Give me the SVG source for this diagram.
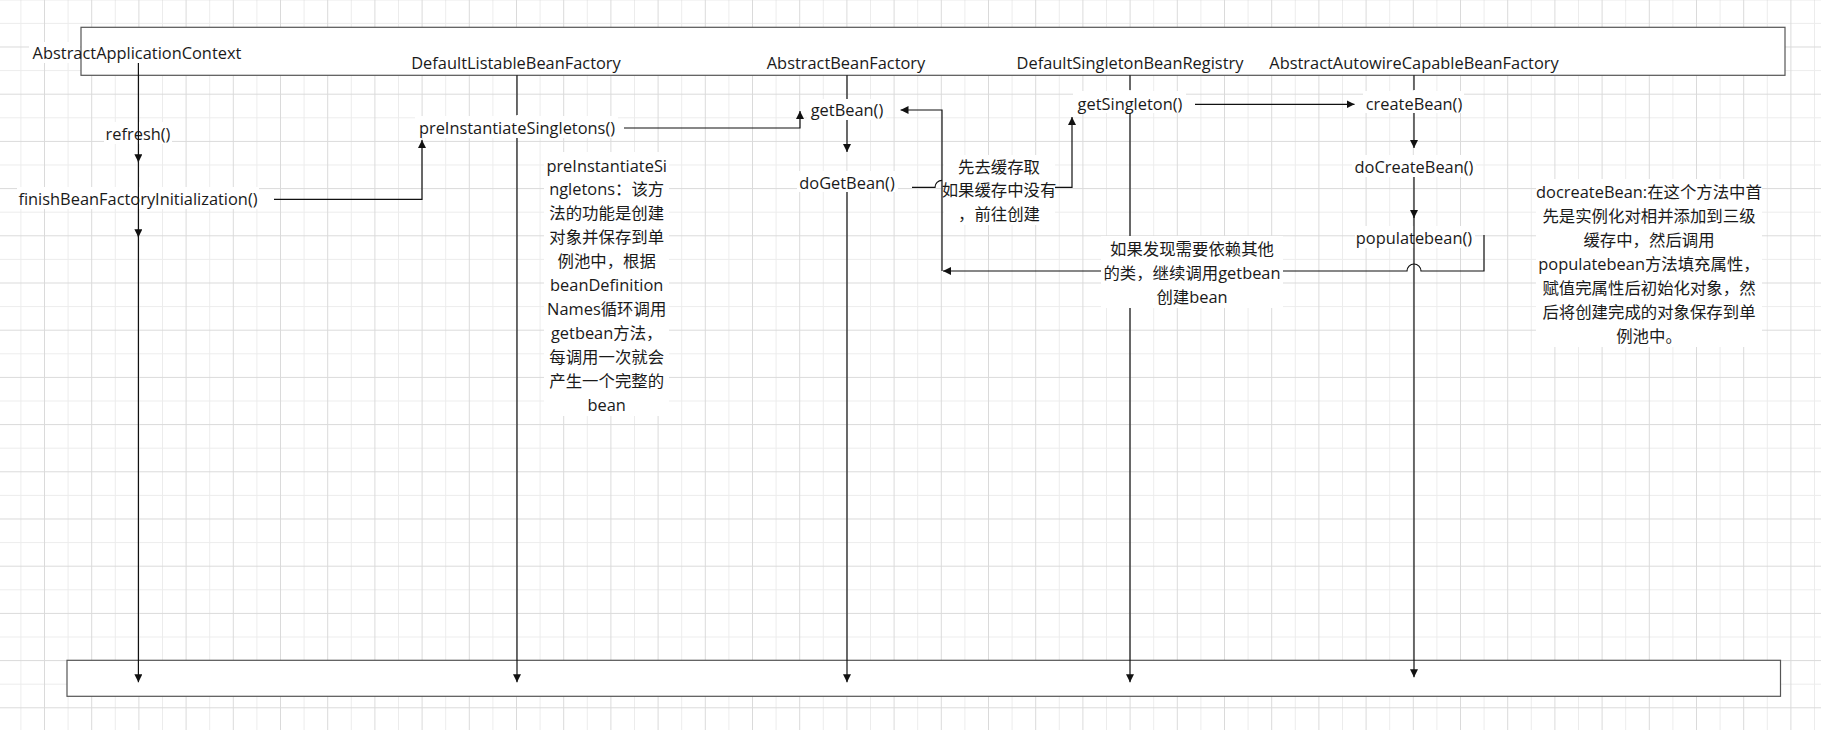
<svg xmlns="http://www.w3.org/2000/svg" width="1821" height="730" viewBox="0 0 1821 730">
<defs>
<pattern id="grid" patternUnits="userSpaceOnUse" x="44" y="46.5" width="47.2" height="47.2">
<rect x="23.6" y="0" width="1" height="47.2" fill="#ececec"/>
<rect x="0" y="23.6" width="47.2" height="1" fill="#ececec"/>
<rect x="0" y="0" width="1" height="47.2" fill="#dadada"/>
<rect x="0" y="0" width="47.2" height="1" fill="#dadada"/>
</pattern>
<marker id="arr" viewBox="0 0 8 8" refX="8" refY="4" markerWidth="8" markerHeight="8" markerUnits="userSpaceOnUse" orient="auto">
<path d="M0,0 L8,4 L0,8 z" fill="#111"/>
</marker>
<style>
text{font-family:"Open Sans","Noto Sans CJK SC",sans-serif;font-size:16.4px;fill:#1a1a1a;text-anchor:middle;dominant-baseline:central}
.bg{fill:#fff}
.box{fill:#fff;stroke:#555;stroke-width:1.2}
.ln{fill:none;stroke:#111;stroke-width:1.2}
.la{fill:none;stroke:#111;stroke-width:1.2;marker-end:url(#arr)}
</style>
</defs>
<rect width="1821" height="730" fill="#fff"/>
<rect width="1821" height="730" fill="url(#grid)"/>

<g id="frame-top"><rect class="box" x="81" y="27.3" width="1704" height="48"/></g>
<g id="frame-bottom"><rect class="box" x="67" y="660.3" width="1713.5" height="36"/></g>

<g id="AbstractApplicationContext"><rect class="bg" x="29" y="42" width="51" height="21"/><text x="137" y="52">AbstractApplicationContext</text></g>
<g id="DefaultListableBeanFactory"><text x="516" y="62">DefaultListableBeanFactory</text></g>
<g id="AbstractBeanFactory"><text x="846" y="62">AbstractBeanFactory</text></g>
<g id="DefaultSingletonBeanRegistry"><text x="1130" y="62">DefaultSingletonBeanRegistry</text></g>
<g id="AbstractAutowireCapableBeanFactory"><text x="1414" y="62">AbstractAutowireCapableBeanFactory</text></g>

<g id="refresh"><rect class="bg" x="104" y="122" width="68" height="22"/><text x="138" y="133">refresh()</text></g>
<g id="finishBeanFactoryInitialization"><rect class="bg" x="17" y="187" width="242" height="22"/><text x="138" y="198">finishBeanFactoryInitialization()</text></g>
<g id="preInstantiateSingletons"><rect class="bg" x="415" y="116" width="203" height="22"/><text x="517" y="127">preInstantiateSingletons()</text></g>
<g id="getBean"><rect class="bg" x="807" y="99" width="79" height="21"/><text x="847" y="109">getBean()</text></g>
<g id="doGetBean"><rect class="bg" x="797" y="171" width="101" height="21"/><text x="847" y="182">doGetBean()</text></g>
<g id="getSingleton"><rect class="bg" x="1073" y="91" width="113" height="22"/><text x="1130" y="103">getSingleton()</text></g>
<g id="createBean"><rect class="bg" x="1363" y="91" width="101" height="22"/><text x="1414" y="103">createBean()</text></g>
<g id="doCreateBean"><rect class="bg" x="1352" y="155" width="124" height="22"/><text x="1414" y="166">doCreateBean()</text></g>
<g id="populatebean"><rect class="bg" x="1355" y="226" width="120" height="22"/><text x="1414" y="237">populatebean()</text></g>

<g id="note-preInstantiateSingletons">
<rect class="bg" x="544" y="152" width="125" height="264"/>
<text x="606.7" y="165">preInstantiateSi</text>
<text x="606.7" y="188.9">ngletons：该方</text>
<text x="606.7" y="212.8">法的功能是创建</text>
<text x="606.7" y="236.7">对象并保存到单</text>
<text x="606.7" y="260.6">例池中，根据</text>
<text x="606.7" y="284.5">beanDefinition</text>
<text x="606.7" y="308.4">Names循环调用</text>
<text x="606.7" y="332.3">getbean方法，</text>
<text x="606.7" y="356.2">每调用一次就会</text>
<text x="606.7" y="380.1">产生一个完整的</text>
<text x="606.7" y="404">bean</text>
</g>

<g id="note-docreateBean">
<rect class="bg" x="1536" y="179" width="226" height="168"/>
<text x="1649" y="191.7">docreateBean:在这个方法中首</text>
<text x="1649" y="215.7">先是实例化对相并添加到三级</text>
<text x="1649" y="239.7">缓存中，然后调用</text>
<text x="1649" y="263.7">populatebean方法填充属性，</text>
<text x="1649" y="287.7">赋值完属性后初始化对象，然</text>
<text x="1649" y="311.7">后将创建完成的对象保存到单</text>
<text x="1649" y="335.5">例池中。</text>
</g>

<g id="connectors">
<path class="la" d="M138.4,63 V162.3"/>
<path class="la" d="M138.4,154 V237.3"/>
<path class="la" d="M138.4,229 V682.3"/>
<path class="ln" d="M517,75.3 V115"/>
<path class="la" d="M517,138 V682.3"/>
<path class="ln" d="M847,75.3 V99"/>
<path class="la" d="M847,120 V152"/>
<path class="la" d="M847,192 V682.3"/>
<path class="ln" d="M1130,75.3 V90"/>
<path class="la" d="M1130,113 V236 M1130,308 V682.3"/>
<path class="ln" d="M1414,75.3 V90"/>
<path class="la" d="M1414,113 V148"/>
<path class="la" d="M1414,177 V218"/>
<path class="la" d="M1414,210 V677.3"/>
<path class="la" d="M274,199.3 H422 V140"/>
<path class="la" d="M624,128 H800 V111"/>
<path class="la" d="M912,187.3 H935 A7,7 0 0 1 942,180.3 M1055,187.3 H1072 V117"/>
<path class="la" d="M942,271 V110 H900.5"/>
<path class="la" d="M1195,104.3 H1354.5"/>
<path class="la" d="M1484,235 V271 H1421 A7,7 0 0 0 1407,271 H1283 M1101,271 H943"/>
<g id="label-cache">
<rect class="bg" x="944" y="155" width="111" height="70"/>
<text x="999" y="166">先去缓存取</text>
<text x="999" y="189.5">如果缓存中没有</text>
<text x="999" y="213">，前往创建</text>
</g>
<g id="label-dependency">
<rect class="bg" x="1101" y="236" width="182" height="72"/>
<text x="1192" y="248">如果发现需要依赖其他</text>
<text x="1192" y="272">的类，继续调用getbean</text>
<text x="1192" y="296">创建bean</text>
</g>
</g>
</svg>
